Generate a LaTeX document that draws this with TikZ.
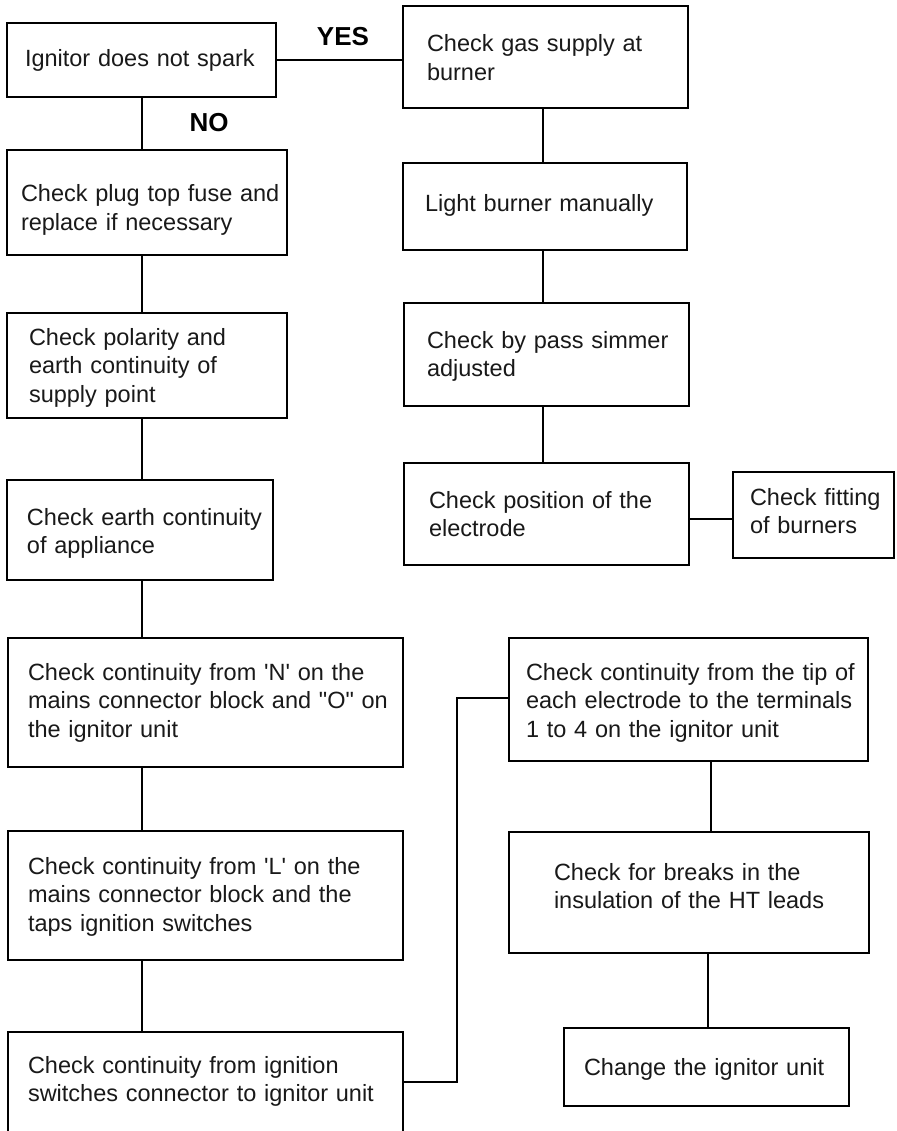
\documentclass[tikz,border=0pt]{standalone}
\usepackage{fontspec}
\setmainfont{Liberation Sans}[Ligatures=TeXOff]
\newcommand\boxtxtfont{\fontsize{23.5}{28.5}\selectfont\spaceskip=0.33em\relax}
\begin{document}
\begin{tikzpicture}[x=1pt,y=-1pt,
  boxst/.style={draw=black,line width=2pt,inner sep=0pt,outer sep=0pt},
  txt/.style={anchor=base west,inner sep=0pt,outer sep=0pt,text=black!90,font=\boxtxtfont},
  lbl/.style={inner sep=0pt,font=\fontsize{26}{30}\selectfont\bfseries},
  conn/.style={line width=2pt}]
\useasboundingbox (0,0) rectangle (896,1131);
\clip (0,0) rectangle (896,1131);
\fill[white] (0,0) rectangle (896,1131);
% boxes
\node[boxst,minimum width=269pt,minimum height=74pt] (b1) at (141.5,60) {};
\node[boxst,minimum width=285pt,minimum height=102pt] (gas) at (545.5,57) {};
\node[boxst,minimum width=284pt,minimum height=87pt] (light) at (545,206.5) {};
\node[boxst,minimum width=285pt,minimum height=103pt] (bypass) at (546.5,354.5) {};
\node[boxst,minimum width=285pt,minimum height=102pt] (elec) at (546.5,514) {};
\node[boxst,minimum width=161pt,minimum height=86pt] (fit) at (813.5,515) {};
\node[boxst,minimum width=280pt,minimum height=105pt] (plug) at (147,202.5) {};
\node[boxst,minimum width=280pt,minimum height=105pt] (pol) at (147,365.5) {};
\node[boxst,minimum width=266pt,minimum height=100pt] (earth) at (140,530) {};
\node[boxst,minimum width=395pt,minimum height=129pt] (nbox) at (205.5,702.5) {};
\node[boxst,minimum width=395pt,minimum height=129pt] (lbox) at (205.5,895.5) {};
\node[boxst,minimum width=395pt,minimum height=128pt] (ign) at (205.5,1096) {};
\node[boxst,minimum width=359pt,minimum height=123pt] (tip) at (688.5,699.5) {};
\node[boxst,minimum width=360pt,minimum height=121pt] (ht) at (689,892.5) {};
\node[boxst,minimum width=285pt,minimum height=78pt] (chg) at (706.5,1067) {};
% texts
\node[txt] (t1) at (25,67) {\vtop{\hbox{Ignitor does not spark}}};
\node[txt] (tgas) at (427,52) {\vtop{\hbox{Check gas supply at}\hbox{burner}}};
\node[txt] (tlight) at (425,212) {\vtop{\hbox{Light burner manually}}};
\node[txt] (tbyp) at (427,348) {\vtop{\hbox{Check by pass simmer}\hbox{adjusted}}};
\node[txt] (telec) at (429,508) {\vtop{\hbox{Check position of the}\hbox{electrode}}};
\node[txt] (tfit) at (750,505) {\vtop{\hbox{Check fitting}\hbox{of burners}}};
\node[txt] (tplug) at (21,202) {\vtop{\hbox{Check plug top fuse and}\hbox{replace if necessary}}};
\node[txt] (tpol) at (29,345) {\vtop{\hbox{Check polarity and}\hbox{earth continuity of}\hbox{supply point}}};
\node[txt] (tearth) at (27,525) {\vtop{\hbox{Check earth continuity}\hbox{of appliance}}};
\node[txt] (tn) at (28,680) {\vtop{\hbox{Check continuity from 'N' on the}\hbox{mains connector block and "O" on}\hbox{the ignitor unit}}};
\node[txt] (tl) at (28,874) {\vtop{\hbox{Check continuity from 'L' on the}\hbox{mains connector block and the}\hbox{taps ignition switches}}};
\node[txt] (tign) at (28,1073) {\vtop{\hbox{Check continuity from ignition}\hbox{switches connector to ignitor unit}}};
\node[txt] (ttip) at (526,680) {\vtop{\hbox{Check continuity from the tip of}\hbox{each electrode to the terminals}\hbox{1 to 4 on the ignitor unit}}};
\node[txt] (tht) at (554,880) {\vtop{\hbox{Check for breaks in the}\hbox{insulation of the HT leads}}};
\node[txt] (tchg) at (584,1075) {\vtop{\hbox{Change the ignitor unit}}};
% labels
\node[lbl] (yes) at (343,37) {YES};
\node[lbl] (no) at (209,123) {NO};
% helper coordinates
\coordinate (colL) at (142,0);
\coordinate (colR) at (543,0);
\coordinate (colT) at (711,0);
\coordinate (colH) at (708,0);
\coordinate (ef) at (0,519);
\coordinate (j1) at (457,1082);
\coordinate (j2) at (457,698);
% connectors
\draw[conn] (b1.east) -- (b1.east -| gas.west);
\draw[conn] (b1.south -| colL) -- (plug.north -| colL);
\draw[conn] (plug.south -| colL) -- (pol.north -| colL);
\draw[conn] (pol.south -| colL) -- (earth.north -| colL);
\draw[conn] (earth.south -| colL) -- (nbox.north -| colL);
\draw[conn] (nbox.south -| colL) -- (lbox.north -| colL);
\draw[conn] (lbox.south -| colL) -- (ign.north -| colL);
\draw[conn] (gas.south -| colR) -- (light.north -| colR);
\draw[conn] (light.south -| colR) -- (bypass.north -| colR);
\draw[conn] (bypass.south -| colR) -- (elec.north -| colR);
\draw[conn] (elec.east |- ef) -- (fit.west |- ef);
\draw[conn] (j1 -| ign.east) -- (j1) -- (j2) -- (j2 -| tip.west);
\draw[conn] (tip.south -| colT) -- (ht.north -| colT);
\draw[conn] (ht.south -| colH) -- (chg.north -| colH);
\end{tikzpicture}
\end{document}
